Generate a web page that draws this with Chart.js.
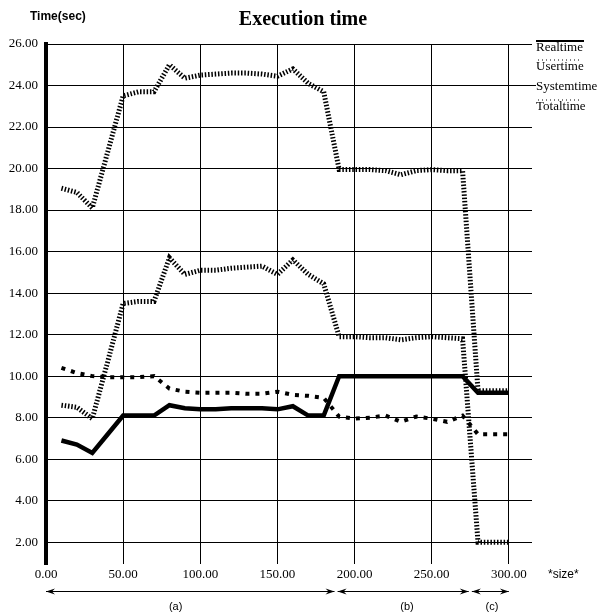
<!DOCTYPE html>
<html>
<head>
<meta charset="utf-8">
<script src="https://cdn.jsdelivr.net/npm/chart.js"></script>
<style>
  html, body { margin: 0; padding: 0; background: #fff; }
  #wrap { width: 602px; height: 613px; }
</style>
</head>
<body>
<div id="wrap"><canvas id="c" width="602" height="613"></canvas></div>
<script>
// ---- data ----
const sizes      = [10, 20, 30, 40, 50, 60, 70, 80, 90, 100, 110, 120, 130, 140, 150, 160, 170, 180, 190, 200, 210, 220, 230, 240, 250, 260, 270, 280, 290, 300];
const realtime   = [6.9, 6.7, 6.3, 7.2, 8.1, 8.1, 8.1, 8.6, 8.45, 8.4, 8.4, 8.45, 8.45, 8.45, 8.4, 8.55, 8.1, 8.1, 10.0, 10.0, 10.0, 10.0, 10.0, 10.0, 10.0, 10.0, 10.0, 9.2, 9.2, 9.2];
const usertime   = [10.4, 10.15, 10.0, 9.95, 9.95, 9.95, 10.0, 9.4, 9.25, 9.2, 9.2, 9.2, 9.15, 9.15, 9.25, 9.1, 9.05, 8.95, 8.05, 7.95, 8.0, 8.1, 7.8, 8.05, 7.95, 7.8, 8.1, 7.2, 7.2, 7.2];
const systemtime = [8.6, 8.5, 7.95, 10.7, 13.5, 13.6, 13.6, 15.7, 14.9, 15.1, 15.1, 15.2, 15.25, 15.3, 14.9, 15.6, 14.9, 14.45, 11.9, 11.9, 11.85, 11.85, 11.75, 11.85, 11.9, 11.85, 11.8, 2.0, 2.0, 2.0];
const totaltime  = [19.05, 18.85, 18.1, 20.8, 23.5, 23.7, 23.7, 25.0, 24.35, 24.5, 24.55, 24.6, 24.6, 24.55, 24.45, 24.8, 24.1, 23.7, 19.95, 19.95, 19.95, 19.9, 19.7, 19.9, 19.95, 19.9, 19.9, 9.3, 9.3, 9.3];

const seriesNames = ['Realtime', 'Usertime', 'Systemtime', 'Totaltime'];
const xTicks = [0, 50, 100, 150, 200, 250, 300];
const yTicks = [2, 4, 6, 8, 10, 12, 14, 16, 18, 20, 22, 24, 26];

const regionNames   = ['(a)', '(b)', '(c)'];
const regionStart   = [0, 189, 276];
const regionEnd     = [187, 274, 300];
const regionLabelAt = [84, 234, 289];

const chartTitle = 'Execution time';
const yAxisTitle = 'Time(sec)';
const xAxisTitle = '*size*';

// ---- build datasets ----
function pts(arr) { return sizes.map((s, i) => ({ x: s, y: arr[i] })); }

const SERIF = '"Liberation Serif", "Times New Roman", serif';
const SANS = '"Liberation Sans", Arial, sans-serif';

const extras = {
  id: 'extras',
  afterDraw(chart) {
    const ctx = chart.ctx;
    const xs = chart.scales.x;
    const ca = chart.chartArea;
    ctx.save();
    ctx.fillStyle = '#000';
    ctx.strokeStyle = '#000';
    // title
    ctx.font = 'bold 20px ' + SERIF;
    ctx.textAlign = 'center';
    ctx.textBaseline = 'middle';
    ctx.fillText(chartTitle, 303, 20);
    // y axis title
    ctx.font = 'bold 12px ' + SANS;
    ctx.textAlign = 'left';
    ctx.fillText(yAxisTitle, 30, 17);
    // x axis title
    ctx.font = '12px ' + SANS;
    ctx.fillText(xAxisTitle, 548, 575);
    // legend
    ctx.font = '13px ' + SERIF;
    const ly = [48, 67, 87, 107];
    seriesNames.forEach((n, i) => {
      ctx.fillText(n, 536, ly[i]);
    });
    // legend samples (overlines)
    ctx.lineWidth = 2;
    ctx.setLineDash([]);
    ctx.beginPath(); ctx.moveTo(536, 41); ctx.lineTo(584, 41); ctx.stroke();
    ctx.lineWidth = 1;
    ctx.setLineDash([1, 3]);
    ctx.beginPath(); ctx.moveTo(538, 60); ctx.lineTo(580, 60); ctx.stroke();
    ctx.beginPath(); ctx.moveTo(538, 100); ctx.lineTo(580, 100); ctx.stroke();
    ctx.setLineDash([]);
    ctx.beginPath(); ctx.moveTo(ca.right, xs.chart.scales.y.getPixelForValue(24)); ctx.lineTo(536, xs.chart.scales.y.getPixelForValue(24)); ctx.stroke();
    // region arrows
    const ay = 591.5;
    ctx.lineWidth = 1;
    regionNames.forEach((n, i) => {
      const x1 = xs.getPixelForValue(regionStart[i]);
      const x2 = xs.getPixelForValue(regionEnd[i]);
      ctx.beginPath(); ctx.moveTo(x1, ay); ctx.lineTo(x2, ay); ctx.stroke();
      ctx.beginPath(); ctx.moveTo(x1, ay); ctx.lineTo(x1 + 9, ay - 3); ctx.lineTo(x1 + 6, ay); ctx.lineTo(x1 + 9, ay + 3); ctx.closePath(); ctx.fill();
      ctx.beginPath(); ctx.moveTo(x2, ay); ctx.lineTo(x2 - 9, ay - 3); ctx.lineTo(x2 - 6, ay); ctx.lineTo(x2 - 9, ay + 3); ctx.closePath(); ctx.fill();
      ctx.font = '11px ' + SANS;
      ctx.textAlign = 'center';
      ctx.fillText(n, xs.getPixelForValue(regionLabelAt[i]), 607);
      ctx.textAlign = 'left';
    });
    ctx.restore();
  }
};

new Chart(document.getElementById('c'), {
  type: 'line',
  data: {
    datasets: [
      { label: seriesNames[0], data: pts(realtime), borderColor: '#000', borderWidth: 4.5, pointRadius: 0, tension: 0, borderJoinStyle: 'miter' },
      { label: seriesNames[1], data: pts(usertime), borderColor: '#000', borderWidth: 4, borderDash: [4, 6], pointRadius: 0, tension: 0 },
      { label: seriesNames[2], data: pts(systemtime), borderColor: '#000', borderWidth: 5, borderDash: [1.5, 1.8], pointRadius: 0, tension: 0 },
      { label: seriesNames[3], data: pts(totaltime), borderColor: '#000', borderWidth: 5, borderDash: [1.5, 1.8], pointRadius: 0, tension: 0 }
    ]
  },
  options: {
    responsive: false,
    devicePixelRatio: 1,
    animation: false,
    layout: { padding: { top: 44, right: 70, left: 0, bottom: 0 } },
    plugins: { legend: { display: false }, title: { display: false }, tooltip: { enabled: false } },
    scales: {
      x: {
        type: 'linear', min: 0, max: 315,
        afterBuildTicks: s => { s.ticks = xTicks.map(v => ({ value: v })); },
        afterFit: s => { s.height = 49; },
        ticks: { callback: v => Number(v).toFixed(2), font: { family: SERIF, size: 13 }, color: '#000', padding: 3, maxRotation: 0, autoSkip: false },
        grid: { color: '#000', lineWidth: 1, drawTicks: false },
        border: { display: false }
      },
      y: {
        type: 'linear', min: 0.95, max: 26,
        afterBuildTicks: s => { s.ticks = yTicks.map(v => ({ value: v })); },
        afterFit: s => { s.width = 46; },
        ticks: { callback: v => Number(v).toFixed(2), font: { family: SERIF, size: 13 }, color: '#000', padding: 8, autoSkip: false },
        grid: { color: '#000', lineWidth: 1, drawTicks: false },
        border: { display: true, color: '#000', width: 4 }
      }
    }
  },
  plugins: [extras]
});
</script>
</body>
</html>
